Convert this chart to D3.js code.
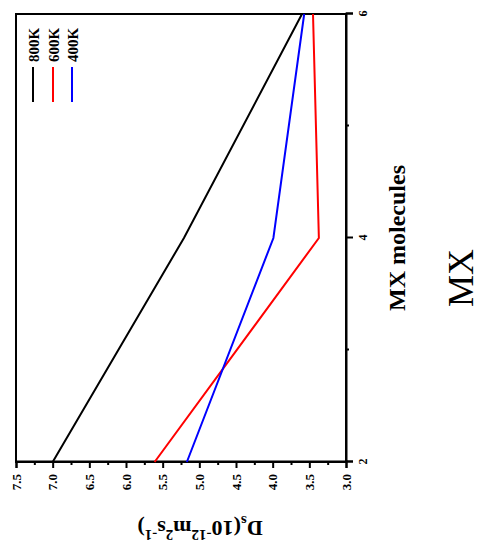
<!DOCTYPE html>
<html>
<head>
<meta charset="utf-8">
<script src="https://cdn.jsdelivr.net/npm/d3@7"></script>
<style>
  html, body { margin: 0; padding: 0; background: #fff; }
  svg { display: block; }
  text { font-family: "Liberation Serif", "Times New Roman", serif; }
</style>
</head>
<body>
<script>
// Diffusion coefficient vs. number of MX molecules at three temperatures
const mxMolecules = [2, 4, 6];
const seriesNames = ["800K", "600K", "400K"];
const seriesColors = ["#000000", "#ff0000", "#0000ff"];
const ds800 = [7.0, 5.21, 3.60];
const ds600 = [5.61, 3.37, 3.45];
const ds400 = [5.17, 3.99, 3.57];
const yTicks = [3.0, 3.5, 4.0, 4.5, 5.0, 5.5, 6.0, 6.5, 7.0, 7.5];
const yMinorTicks = [3.25, 3.75, 4.25, 4.75, 5.25, 5.75, 6.25, 6.75, 7.25];
const xTicks = [2, 4, 6];
const xMinorTicks = [3, 5];

const seriesValues = [ds800, ds600, ds400];

const W = 481, H = 544;
const svg = d3.select("body").append("svg").attr("width", W).attr("height", H);

// The whole figure is laid out in its own frame and turned a quarter turn
const g = svg.append("g").attr("transform", `translate(0,${H}) rotate(-90)`);

const x = d3.scaleLinear().domain([2, 6]).range([82, 530]);
const y = d3.scaleLinear().domain([3.0, 7.5]).range([346, 16]);

// plot frame
g.append("rect")
  .attr("x", x(2)).attr("y", y(7.5))
  .attr("width", x(6) - x(2)).attr("height", y(3.0) - y(7.5))
  .attr("fill", "none").attr("stroke", "#000").attr("stroke-width", 2);

// bottom axis (MX molecules)
const xAxis = g.append("g").attr("transform", `translate(0,${y(3.0)})`)
  .call(d3.axisBottom(x).tickValues(xTicks).tickFormat(d3.format("d")).tickSize(7).tickPadding(5));
xAxis.select(".domain").attr("stroke-width", 2);
xAxis.selectAll(".tick line").attr("stroke-width", 2);
xAxis.selectAll("text").attr("font-size", 12).attr("font-weight", "bold")
  .style("font-family", "'Liberation Serif', serif");
g.append("g").attr("transform", `translate(0,${y(3.0)})`)
  .call(d3.axisBottom(x).tickValues(xMinorTicks).tickFormat("").tickSize(3))
  .call(s => s.select(".domain").remove())
  .selectAll("line").attr("stroke-width", 2);

// left axis (Ds)
const yAxis = g.append("g").attr("transform", `translate(${x(2)},0)`)
  .call(d3.axisLeft(y).tickValues(yTicks).tickFormat(d3.format(".1f")).tickSize(6).tickPadding(6));
yAxis.select(".domain").attr("stroke-width", 2);
yAxis.selectAll(".tick line").attr("stroke-width", 2);
yAxis.selectAll("text").attr("font-size", 13).attr("font-weight", "bold")
  .style("font-family", "'Liberation Serif', serif");
g.append("g").attr("transform", `translate(${x(2)},0)`)
  .call(d3.axisLeft(y).tickValues(yMinorTicks).tickFormat("").tickSize(3))
  .call(s => s.select(".domain").remove())
  .selectAll("line").attr("stroke-width", 2);

// series lines
const line = d3.line().x((d, i) => x(mxMolecules[i])).y(d => y(d));
seriesValues.forEach((vals, k) => {
  g.append("path").datum(vals)
    .attr("d", line)
    .attr("fill", "none")
    .attr("stroke", seriesColors[k])
    .attr("stroke-width", 2);
});

// legend
const legendRows = [33, 53, 72];
seriesNames.forEach((name, k) => {
  g.append("line")
    .attr("x1", 442).attr("x2", 477)
    .attr("y1", legendRows[k]).attr("y2", legendRows[k])
    .attr("stroke", seriesColors[k]).attr("stroke-width", 2);
  g.append("text")
    .attr("x", 482).attr("y", legendRows[k] + 5.5)
    .attr("font-size", 15).attr("font-weight", "bold")
    .text(name);
});

// axis titles
g.append("text")
  .attr("x", (x(2) + x(6)) / 2).attr("y", 405)
  .attr("text-anchor", "middle")
  .attr("font-size", 24).attr("font-weight", "bold")
  .text("MX molecules");

const yTitle = g.append("text")
  .attr("transform", `translate(23,200) rotate(-90)`)
  .attr("text-anchor", "middle")
  .attr("font-size", 22).attr("font-weight", "bold");
yTitle.append("tspan").text("D");
yTitle.append("tspan").attr("font-size", 15).attr("dy", 5).text("s");
yTitle.append("tspan").attr("dy", -5).text("(10");
yTitle.append("tspan").attr("font-size", 15).attr("dy", -9).text("-12");
yTitle.append("tspan").attr("dy", 9).text("m");
yTitle.append("tspan").attr("font-size", 15).attr("dy", -9).text("2");
yTitle.append("tspan").attr("dy", 9).text("s");
yTitle.append("tspan").attr("font-size", 15).attr("dy", -9).text("-1");
yTitle.append("tspan").attr("dy", 9).text(")");

// large side caption
g.append("text")
  .attr("x", 266).attr("y", 473)
  .attr("text-anchor", "middle")
  .attr("font-size", 36)
  .text("MX");
</script>
</body>
</html>
